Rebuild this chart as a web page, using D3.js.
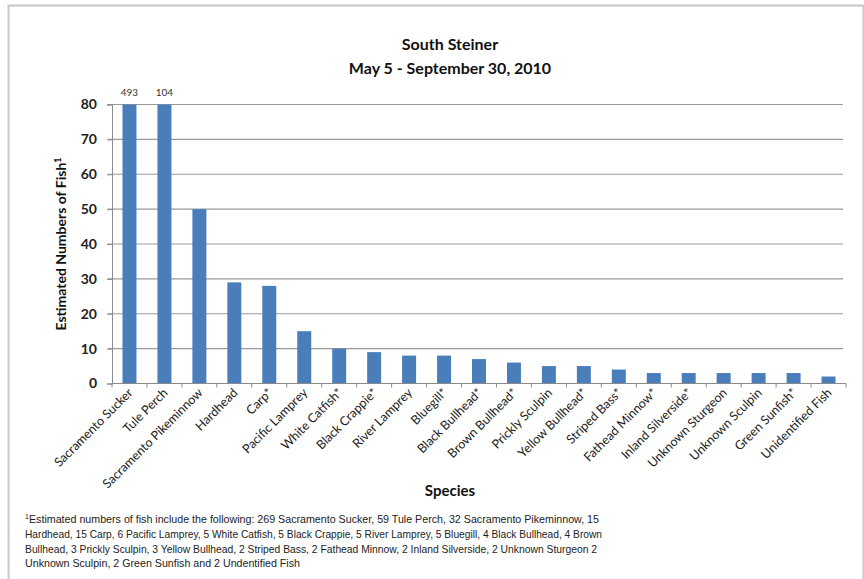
<!DOCTYPE html>
<html>
<head>
<meta charset="utf-8">
<script src="https://cdn.jsdelivr.net/npm/d3@7"></script>
<style>
  html, body { margin: 0; padding: 0; background: #fff; }
  svg { display: block; }
</style>
</head>
<body>
<script>
// ---- data ----
const species = ["Sacramento Sucker","Tule Perch","Sacramento Pikeminnow","Hardhead","Carp*","Pacific Lamprey","White Catfish*","Black Crappie*","River Lamprey","Bluegill*","Black Bullhead*","Brown Bullhead*","Prickly Sculpin","Yellow Bullhead*","Striped Bass*","Fathead Minnow*","Inland Silverside*","Unknown Sturgeon","Unknown Sculpin","Green Sunfish*","Unidentified Fish"];
const estimates = [493,104,50,29,28,15,10,9,8,8,7,6,5,5,4,3,3,3,3,3,2];
const yTicks = [0,10,20,30,40,50,60,70,80];
const titleLines = ["South Steiner","May 5 - September 30, 2010"];
const footnoteLines = [
  "Estimated numbers of fish include the following: 269 Sacramento Sucker, 59 Tule Perch, 32 Sacramento Pikeminnow, 15",
  "Hardhead, 15 Carp, 6 Pacific Lamprey, 5 White Catfish,  5 Black Crappie, 5 River Lamprey, 5 Bluegill, 4 Black Bullhead, 4 Brown",
  "Bullhead, 3 Prickly Sculpin, 3 Yellow Bullhead, 2 Striped Bass, 2 Fathead Minnow, 2 Inland Silverside, 2 Unknown Sturgeon 2",
  "Unknown Sculpin, 2 Green Sunfish and 2 Undentified Fish"
];
const footnoteWidths = [570, 577, 572, 275];

const W = 864, H = 579;
const FONT = "Lato, 'Open Sans', 'Liberation Sans', sans-serif";
const svg = d3.select("body").append("svg").attr("width", W).attr("height", H)
  .style("font-family", FONT);

// outer border
svg.append("rect").attr("x", 8.5).attr("y", 5.5).attr("width", 855).attr("height", 580)
  .attr("fill", "none").attr("stroke", "#c8c8c8").attr("stroke-width", 2);

const plot = { left: 112, right: 846, top: 104.5, bottom: 383.5 };
const x = d3.scaleBand().domain(species).range([plot.left, plot.right]).paddingInner(0.6).paddingOuter(0.3);
const y = d3.scaleLinear().domain([0, 80]).range([plot.bottom, plot.top]);

// gridlines
svg.append("g").selectAll("line").data(yTicks.filter(d => d > 0)).join("line")
  .attr("x1", plot.left - 4).attr("x2", 843)
  .attr("y1", d => y(d)).attr("y2", d => y(d))
  .attr("stroke", "#9a9a9a").attr("stroke-width", 1.2);

// y axis
const yAxis = svg.append("g").attr("transform", `translate(${plot.left},0)`)
  .call(d3.axisLeft(y).tickValues(yTicks).tickSize(5).tickPadding(10));
yAxis.select(".domain").attr("stroke", "#8a8a8a");
yAxis.selectAll(".tick line").attr("stroke", "#8a8a8a");
yAxis.selectAll(".tick text").attr("font-size", 14).attr("font-weight", "bold")
  .attr("fill", "#222").style("font-family", FONT);

// bars (clipped at 80)
svg.append("g").selectAll("rect").data(species).join("rect")
  .attr("x", d => x(d))
  .attr("width", x.bandwidth())
  .attr("y", (d, i) => y(Math.min(estimates[i], 80)))
  .attr("height", (d, i) => y(0) - y(Math.min(estimates[i], 80)))
  .attr("fill", "#4a7ebb");

// labels for clipped bars
svg.append("g").selectAll("text").data(species.filter((d, i) => estimates[i] > 80)).join("text")
  .attr("x", d => x(d) + x.bandwidth() / 2)
  .attr("y", 96)
  .attr("text-anchor", "middle")
  .attr("font-size", 10).attr("fill", "#333")
  .text(d => estimates[species.indexOf(d)]);

// x axis with ticks at band boundaries
const boundaries = d3.range(species.length + 1).map(i => plot.left + i * x.step());
svg.append("line").attr("x1", plot.left).attr("x2", plot.right)
  .attr("y1", plot.bottom).attr("y2", plot.bottom).attr("stroke", "#8a8a8a");
svg.append("g").selectAll("line").data(boundaries).join("line")
  .attr("x1", d => d).attr("x2", d => d)
  .attr("y1", plot.bottom).attr("y2", plot.bottom + 4).attr("stroke", "#8a8a8a");

// x labels rotated
svg.append("g").selectAll("text").data(species).join("text")
  .attr("transform", d => `translate(${x(d) + x.bandwidth() / 2 + 4},${plot.bottom + 10}) rotate(-45)`)
  .attr("text-anchor", "end")
  .attr("font-size", 12.5).attr("fill", "#222")
  .text(d => d);

// titles
svg.append("text").attr("x", 450).attr("y", 50).attr("text-anchor", "middle")
  .attr("font-size", 16).attr("font-weight", "bold").attr("fill", "#111").text(titleLines[0]);
svg.append("text").attr("x", 450).attr("y", 74).attr("text-anchor", "middle")
  .attr("font-size", 16).attr("font-weight", "bold").attr("fill", "#111").text(titleLines[1]);

// y axis title
const yt = svg.append("text").attr("transform", `translate(66,${(plot.top + plot.bottom) / 2}) rotate(-90)`)
  .attr("text-anchor", "middle").attr("font-size", 14).attr("font-weight", "bold").attr("fill", "#111");
yt.append("tspan").text("Estimated Numbers of Fish");
yt.append("tspan").attr("font-size", 9).attr("dy", -5).text("1");

// x axis title
svg.append("text").attr("x", 450).attr("y", 496).attr("text-anchor", "middle")
  .attr("font-size", 15).attr("font-weight", "bold").attr("fill", "#111").text("Species");

// footnote
const fn = svg.append("g").style("font-family", "'Liberation Sans Narrow', 'Liberation Sans', sans-serif");
const lineY = [523, 538, 553, 567];
fn.append("text").attr("x", 25).attr("y", lineY[0] - 4).attr("font-size", 7).attr("fill", "#222").text("1");
footnoteLines.forEach((t, i) => {
  fn.append("text").attr("x", i === 0 ? 29 : 25).attr("y", lineY[i])
    .attr("font-size", 11).attr("fill", "#222")
    .attr("textLength", footnoteWidths[i]).attr("lengthAdjust", "spacingAndGlyphs")
    .text(t);
});
</script>
</body>
</html>
